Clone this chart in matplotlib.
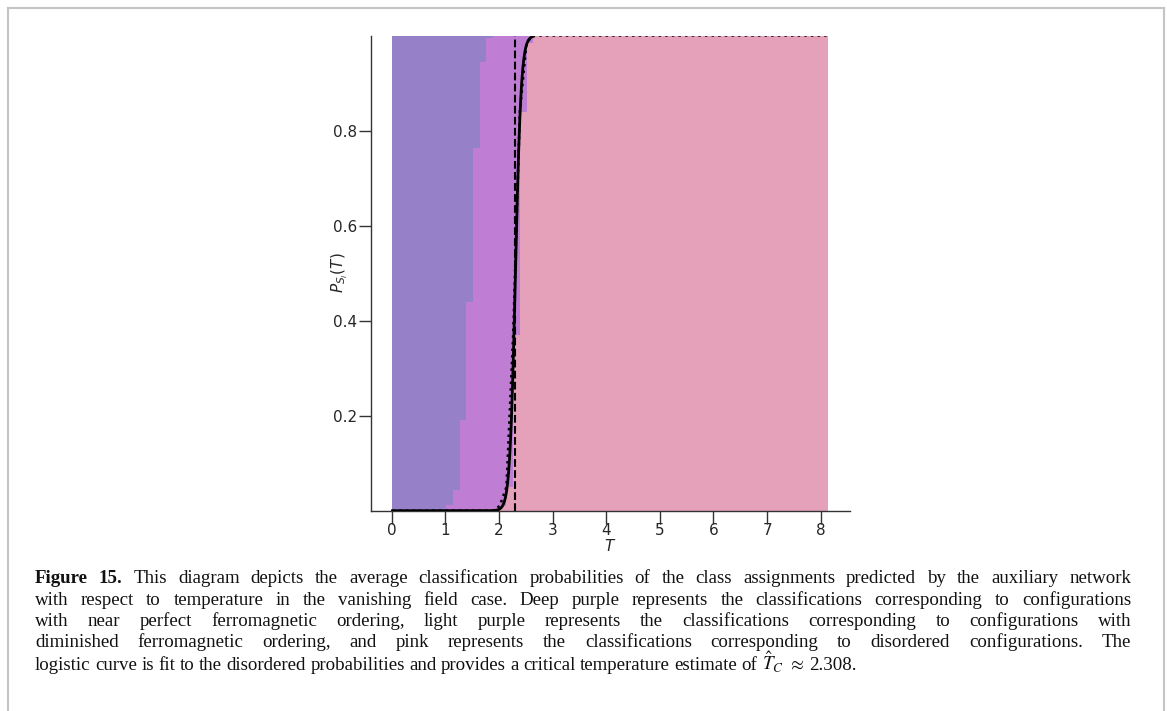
import numpy as np
import matplotlib
matplotlib.use("Agg")
import matplotlib.pyplot as plt
from matplotlib.lines import Line2D

# figure size in pixels
W, H = 1167, 711
DPI = 100

# temperature grid (left edges of each sampled bin, last one closes the range)
temperatures = [
    0.015, 0.140, 0.265, 0.390, 0.515, 0.640, 0.765, 0.890, 1.015, 1.140, 1.265,
    1.390, 1.515, 1.640, 1.765, 1.890, 2.015, 2.140, 2.265, 2.390, 2.515, 2.640,
    2.765, 2.890, 3.015, 3.140, 3.265, 3.390, 3.515, 3.640, 3.765, 3.890, 4.015,
    4.140, 4.265, 4.390, 4.515, 4.640, 4.765, 4.890, 5.015, 5.140, 5.265, 5.390,
    5.515, 5.640, 5.765, 5.890, 6.015, 6.140, 6.265, 6.390, 6.515, 6.640, 6.765,
    6.890, 7.015, 7.140, 7.265, 7.390, 7.515, 7.640, 7.765, 7.890, 8.015, 8.140,
]

# average class probabilities
p_ordered = [1.0] * 8 + [
    0.988, 0.956, 0.81, 0.56, 0.237, 0.055, 0.005, 0.001,
    0.0, 0.0, 0.0, 0.0, 0.0,
] + [0.0] * 45
p_diminished = [0.0] * 8 + [
    0.012, 0.044, 0.19, 0.44, 0.763, 0.945, 0.995, 0.999,
    0.99, 0.95, 0.63, 0.16, 0.015,
] + [0.0] * 45
p_disordered = [0.0] * 8 + [
    0.0, 0.0, 0.0, 0.0, 0.0, 0.0, 0.0, 0.0,
    0.01, 0.05, 0.37, 0.84, 0.985,
] + [1.0] * 45

# fitted logistic: critical temperature estimate and steepness
T_C = 2.308
fit_rate = 19.0
fit_range = (0.015, 2.64)

col_ordered = "#9680C8"
col_diminished = "#BF7ED3"
col_disordered = "#E5A1B9"

caption_lines = [
    "Figure 15. This diagram depicts the average classification probabilities of the class assignments predicted by the auxiliary network",
    "with respect to temperature in the vanishing field case. Deep purple represents the classifications corresponding to configurations",
    "with near perfect ferromagnetic ordering, light purple represents the classifications corresponding to configurations with",
    "diminished ferromagnetic ordering, and pink represents the classifications corresponding to disordered configurations. The",
    r"logistic curve is fit to the disordered probabilities and provides a critical temperature estimate of $\hat{T}_C$ $\approx$ 2.308.",
]
caption_ends = [1131, 1131, 1131, 1131, 857]
caption_baselines = [583, 605, 626, 647, 670]


def logistic(t):
    return 1.0 / (1.0 + np.exp(-fit_rate * (t - T_C)))


T = np.array(temperatures)
p1 = np.array(p_ordered)
p2 = np.array(p_diminished)
p3 = np.array(p_disordered)

fig = plt.figure(figsize=(W / DPI, H / DPI), dpi=DPI)
fig.patch.set_facecolor("white")

ax = fig.add_axes([370.7 / W, 1 - 510.7 / H, 479.3 / W, 475.2 / H])

# stacked probabilities, disordered at the bottom
ax.fill_between(T, 0, p3, step="post", color=col_disordered, lw=0)
ax.fill_between(T, p3, p3 + p2, step="post", color=col_diminished, lw=0)
ax.fill_between(T, p3 + p2, p3 + p2 + p1, step="post", color=col_ordered, lw=0)

t_fit = np.linspace(fit_range[0], fit_range[1], 600)
ax.plot(T, p3, color="black", ls=":", lw=1.8, zorder=3)
ax.plot(t_fit, logistic(t_fit), color="black", lw=2, zorder=4)
ax.axvline(T_C, color="black", ls="--", lw=1.5, zorder=3)

ax.set_ylim(0, 1)
ax.set_xticks(range(9))
ax.set_yticks([0.2, 0.4, 0.6, 0.8])
ax.set_yticklabels(["0.2", "0.4", "0.6", "0.8"])
for side in ["top", "right"]:
    ax.spines[side].set_visible(False)
for side in ["left", "bottom"]:
    ax.spines[side].set_color("#333333")
    ax.spines[side].set_linewidth(1.0)
ax.tick_params(length=9, width=1.0, color="#333333", labelsize=11,
               labelcolor="#262626", pad=1)
ax.tick_params(axis="x", pad=0)
ax.set_facecolor("white")

ax.set_xlabel("$T$", fontsize=11, labelpad=0, color="#262626")
ax.set_ylabel("$P_{S_i}(T)$", fontsize=11, color="#262626")
ax.yaxis.set_label_coords(-0.044, 0.5)

# page frame (grey rule on top and sides)
frame_kw = dict(color="#c4c4c4", lw=1.5, transform=fig.transFigure)
fig.add_artist(Line2D([8 / W, 1164 / W], [1 - 8 / H, 1 - 8 / H], **frame_kw))
fig.add_artist(Line2D([8 / W, 8 / W], [1 - 8 / H, 0], **frame_kw))
fig.add_artist(Line2D([1164 / W, 1164 / W], [1 - 8 / H, 0], **frame_kw))

# caption, justified word by word
renderer = fig.canvas.get_renderer()
cap_font = dict(family="Liberation Serif", size=13.6, color="#111111",
                va="baseline", ha="left", math_fontfamily="stix")
x_left = 35
for i, (line, x_right, yb) in enumerate(zip(caption_lines, caption_ends, caption_baselines)):
    words = line.split(" ")
    texts = []
    for j, w in enumerate(words):
        bold = i == 0 and j < 2
        t = fig.text(0, 1 - yb / H, w, fontweight="bold" if bold else "normal", **cap_font)
        texts.append(t)
    widths = [t.get_window_extent(renderer).width for t in texts]
    gap = (x_right - x_left - sum(widths)) / (len(words) - 1)
    gap = max(gap, 3.0)
    x = x_left
    for t, w in zip(texts, widths):
        t.set_x(x / W)
        x += w + gap

fig.savefig("out.png", dpi=DPI, facecolor="white")
